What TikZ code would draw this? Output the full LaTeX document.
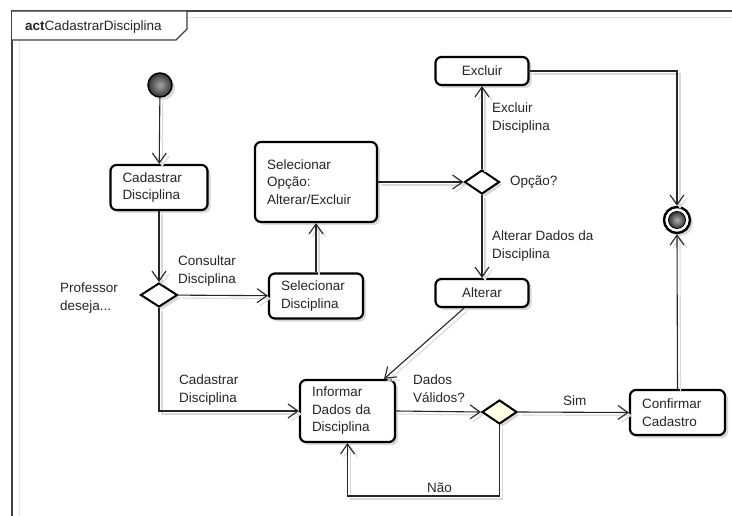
\documentclass[tikz,border=0pt]{standalone}
\usepackage{fontspec}
\setmainfont{Liberation Sans}
\usetikzlibrary{arrows.meta,shapes.geometric,shadows,calc}
\definecolor{dyellow}{RGB}{255,253,228}
\newcommand\flowline[1]{\draw[lsh] #1; \draw[flow] #1;}
\begin{document}
\begin{tikzpicture}[x=1pt,y=-1pt,
  txt/.style={font=\fontsize{13.5}{17.5}\selectfont, text=black!85},
  shd/.style={drop shadow={shadow xshift=3pt,shadow yshift=-3pt,fill=black!15,opacity=1}},
  act/.style={txt, draw=black, line width=2.2pt, rounded corners=6pt, fill=white, shd, inner ysep=0pt, inner xsep=12pt},
  dia/.style={diamond, draw=black, line width=2pt, fill=white, inner sep=0pt, shd},
  lab/.style={txt, align=left, inner sep=0pt, anchor=north west},
  flow/.style={draw=black!85, line width=1.1pt, -{Straight Barb[length=10pt,width=14pt]}},
  lsh/.style={flow, draw=black!15, transform canvas={xshift=3pt,yshift=-3pt}}
]
\useasboundingbox (0,0) rectangle (732,516);
\clip (0,0) rectangle (732,516);
% frame
\draw[black!10, line width=1pt] (19,600) -- (19,18) -- (760,18);
\draw[black!75, line width=1.2pt] (12,600) -- (12,11) -- (760,11);
\draw[black!75, line width=1.2pt, fill=white] (12,11) -- (187,11) -- (187,29) -- (176,40) -- (12,40);
\node[txt, anchor=base west, inner sep=0pt] (ttl) at (25,31) {\textbf{act}CadastrarDisciplina};

% nodes
\node[circle, draw=black, line width=1.5pt, minimum size=24pt, inner sep=0pt, inner color=black!35, outer color=black!80, shd] (ini) at (160,85) {};
\node[act, minimum width=97pt, minimum height=45pt, text width=73pt, align=left] (cad) at (159,187.5) {Cadastrar\\Disciplina};
\node[dia, minimum width=37pt, minimum height=24pt] (d1) at (159,295) {};
\node[act, minimum width=94pt, minimum height=45pt, text width=70pt, align=left] (seld) at (316,296) {Selecionar\\Disciplina};
\node[act, minimum width=122pt, minimum height=80pt, text width=98pt, align=left] (selo) at (316,182) {Selecionar\\Opção:\\Alterar/Excluir};
\node[dia, minimum width=35pt, minimum height=24pt] (d2) at (482,182) {};
\node[act, minimum width=93pt, minimum height=28pt, align=center] (exc) at (482,71) {Excluir};
\node[act, minimum width=93pt, minimum height=28pt, align=center] (alt) at (482,293) {Alterar};
\node[circle, draw=black, line width=2.4pt, minimum size=26pt, inner sep=0pt, fill=white, shd] (fin) at (677,220) {};
\node[circle, draw=black, line width=0.8pt, minimum size=17pt, inner sep=0pt, inner color=black!30, outer color=black!80] (fini) at (fin) {};
\node[act, minimum width=95pt, minimum height=62pt, text width=71pt, align=left] (inf) at (347.5,411) {Informar\\Dados da\\Disciplina};
\node[dia, minimum width=35pt, minimum height=24pt, fill=dyellow] (d3) at (499.5,412) {};
\node[act, minimum width=95pt, minimum height=45pt, text width=71pt, align=left] (conf) at (677.5,412.5) {Confirmar\\Cadastro};

% labels
\node[lab] (lprof) at (60,283) {Professor\\deseja...};
\node[lab] (lcons) at (178,256) {Consultar\\Disciplina};
\node[lab] (lcad) at (179,375) {Cadastrar\\Disciplina};
\node[lab] (lexc) at (492,103) {Excluir\\Disciplina};
\node[lab] (lop) at (510,176) {Opção?};
\node[lab] (lalt) at (492,231) {Alterar Dados da\\Disciplina};
\node[lab] (ldv) at (413,375) {Dados\\Válidos?};
\node[lab] (lsim) at (563,396) {Sim};
\node[lab] (lnao) at (427,483) {Não};

% connectors
\flowline{(ini) -- (cad)}
\flowline{(cad) -- (d1)}
\flowline{(d1) -- (seld)}
\flowline{(seld) -- (selo)}
\flowline{(selo) -- (d2)}
\flowline{(d2) -- (exc)}
\flowline{(d2) -- (alt)}
\flowline{(exc.east) -| (fin.north)}
\flowline{($(alt.south)+(-18pt,0)$) -- ($(inf.north east)+(-12pt,0)$)}
\flowline{(d1.south) |- (inf.west)}
\flowline{(inf.east) -- (d3.west)}
\flowline{(d3.east) -- (conf.west)}
\flowline{(d3.south) -- ++(0,71) -| (inf.south)}
\flowline{(conf.north) -- (fin.south)}
\end{tikzpicture}
\end{document}
